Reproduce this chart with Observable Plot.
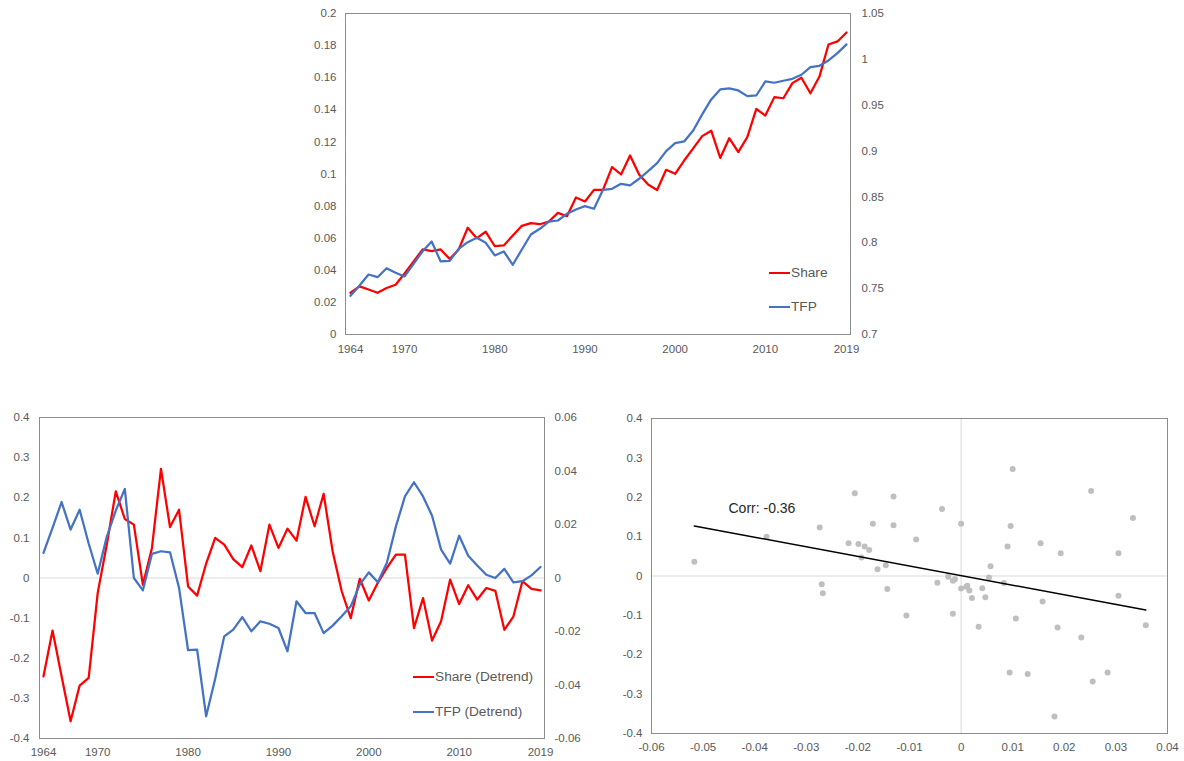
<!DOCTYPE html>
<html>
<head>
<meta charset="utf-8">
<script src="https://cdn.jsdelivr.net/npm/d3@7"></script>
<script src="https://cdn.jsdelivr.net/npm/@observablehq/plot@0.6"></script>
<style>
  html, body { margin: 0; padding: 0; background: #fff; }
  #root { position: relative; width: 1184px; height: 761px; overflow: hidden; font-family: "Liberation Sans", Arial, sans-serif; }
  #root > svg, #root > .plotwrap { position: absolute; }
  .leg { position: absolute; font-size: 13.7px; color: #595959; display: flex; align-items: center; white-space: nowrap; line-height: 1; }
  .leg span.sw { display: inline-block; width: 21px; height: 2px; margin-right: 1px; }
</style>
</head>
<body>
<div id="root"></div>
<script>
// ---- Data ----
const years = [1964,1965,1966,1967,1968,1969,1970,1971,1972,1973,1974,1975,1976,1977,1978,1979,1980,1981,1982,1983,1984,1985,1986,1987,1988,1989,1990,1991,1992,1993,1994,1995,1996,1997,1998,1999,2000,2001,2002,2003,2004,2005,2006,2007,2008,2009,2010,2011,2012,2013,2014,2015,2016,2017,2018,2019];

// Share (left axis, top panel)
const share = [0.026,0.030,0.028,0.026,0.029,0.031,0.038,0.0455,0.053,0.052,
               0.053,0.047,0.053,0.0665,0.060,0.064,0.055,0.0555,0.0617,0.0677,
               0.0694,0.0687,0.0704,0.0758,0.0737,0.0854,0.0829,0.0901,0.0901,0.1043,
               0.0997,0.1115,0.0997,0.0935,0.090,0.1026,0.1001,0.1084,0.116,0.1236,
               0.127,0.110,0.1223,0.1136,0.123,0.1406,0.1364,0.1479,0.1472,0.1566,
               0.160,0.1503,0.1607,0.1807,0.1826,0.1882];
// TFP (right axis, top panel)
const tfp = [0.7422,0.7534,0.7654,0.7625,0.7723,0.7673,0.7633,0.7771,0.7908,0.8014,
             0.7796,0.7803,0.7934,0.8007,0.8054,0.800,0.7862,0.7905,0.776,0.7927,
             0.809,0.8153,0.8232,0.8243,0.8316,0.8363,0.840,0.8371,0.8578,0.8589,
             0.8643,0.8625,0.8698,0.8781,0.8868,0.8999,0.9086,0.9105,0.9225,0.940,
             0.9563,0.9672,0.9683,0.9661,0.9599,0.9606,0.9759,0.9745,0.9767,0.9788,
             0.9832,0.9915,0.993,0.9988,1.0068,1.0163];
// Share (Detrend), left axis, bottom-left panel
const shareDetrend = [-0.245,-0.131,-0.245,-0.357,-0.268,-0.249,-0.037,0.083,0.216,0.147,
                      0.133,-0.017,0.075,0.272,0.127,0.170,-0.021,-0.044,0.036,0.100,
                      0.083,0.047,0.027,0.081,0.017,0.133,0.075,0.123,0.093,0.202,
                      0.129,0.210,0.066,-0.033,-0.100,-0.002,-0.056,-0.012,0.025,0.058,
                      0.058,-0.125,-0.050,-0.156,-0.108,-0.004,-0.065,-0.018,-0.054,-0.025,
                      -0.032,-0.129,-0.096,-0.008,-0.027,-0.031];
// TFP (Detrend), right axis, bottom-left panel
const tfpDetrend = [0.0094,0.0187,0.0284,0.0181,0.0255,0.0129,0.0016,0.0154,0.0252,0.0333,
                    0.0000,-0.0046,0.0090,0.0100,0.0096,-0.0037,-0.0270,-0.0268,-0.0517,-0.0377,
                    -0.0218,-0.0193,-0.0146,-0.0199,-0.0162,-0.0171,-0.0187,-0.0274,-0.0087,-0.0131,
                    -0.0131,-0.0206,-0.0178,-0.0143,-0.0106,-0.0025,0.0021,-0.0016,0.0057,0.0193,
                    0.0305,0.0358,0.0305,0.0233,0.0106,0.0054,0.0158,0.0083,0.0047,0.0012,
                    0.0000,0.0034,-0.0016,-0.0012,0.0010,0.0041];

const yearTicks = [1964,1970,1980,1990,2000,2010,2019];
const shareTicks = [0,0.02,0.04,0.06,0.08,0.1,0.12,0.14,0.16,0.18,0.2];
const tfpTicks = [0.7,0.75,0.8,0.85,0.9,0.95,1,1.05];
const detLeftTicks = [-0.4,-0.3,-0.2,-0.1,0,0.1,0.2,0.3,0.4];
const detRightTicks = [-0.06,-0.04,-0.02,0,0.02,0.04,0.06];
const scatterXTicks = [-0.06,-0.05,-0.04,-0.03,-0.02,-0.01,0,0.01,0.02,0.03,0.04];
const scatterYTicks = [-0.4,-0.3,-0.2,-0.1,0,0.1,0.2,0.3,0.4];
const corrLabel = "Corr: -0.36";

// ---- Build table ----
const rows = years.map((y, i) => ({year: y, share: share[i], tfp: tfp[i], shareDt: shareDetrend[i], tfpDt: tfpDetrend[i]}));

const fmt = d => String(Math.round(d * 1e6) / 1e6);
const RED = "#FF0000", BLUE = "#4472C4", TXT = "#595959", FRAME = "#8c8c8c";
const baseStyle = {fontFamily: "'Liberation Sans', Arial, sans-serif", fontSize: "11.5px", color: TXT, background: "transparent", overflow: "visible"};

const root = document.getElementById("root");
function place(svg, left, top) {
  svg.style.position = "absolute";
  svg.style.left = left + "px";
  svg.style.top = top + "px";
  root.appendChild(svg);
}

// ---- Top panel ----
const topDims = {width: 600, height: 360, marginLeft: 55, marginRight: 40, marginTop: 13, marginBottom: 26};
const topX = {domain: [1964, 2019], insetLeft: 5, insetRight: 4, ticks: yearTicks, tickFormat: d => String(d), tickSize: 0, tickPadding: 10, label: null};

place(Plot.plot({
  ...topDims, style: baseStyle,
  x: topX,
  y: {domain: [0, 0.2], ticks: shareTicks, tickFormat: fmt, tickSize: 0, tickPadding: 9, label: null},
  marks: [
    Plot.frame({stroke: FRAME}),
    Plot.lineY(rows, {x: "year", y: "share", stroke: RED, strokeWidth: 2.25})
  ]
}), 290, 0);

place(Plot.plot({
  ...topDims, style: baseStyle,
  x: {...topX, axis: null},
  y: {domain: [0.7, 1.05], axis: "right", ticks: tfpTicks, tickFormat: fmt, tickSize: 0, tickPadding: 11, label: null},
  marks: [
    Plot.lineY(rows, {x: "year", y: "tfp", stroke: BLUE, strokeWidth: 2.25})
  ]
}), 290, 0);

// ---- Bottom-left panel ----
const blDims = {width: 600, height: 361, marginLeft: 39, marginRight: 56, marginTop: 17, marginBottom: 23};
const blX = {domain: [1964, 2019], insetLeft: 4, insetRight: 4, ticks: yearTicks, tickFormat: d => String(d), tickSize: 0, tickPadding: 9, label: null};

place(Plot.plot({
  ...blDims, style: baseStyle,
  x: blX,
  y: {domain: [-0.4, 0.4], ticks: detLeftTicks, tickFormat: fmt, tickSize: 0, tickPadding: 10, label: null},
  marks: [
    Plot.ruleY([0], {stroke: "#D9D9D9"}),
    Plot.frame({stroke: FRAME}),
    Plot.lineY(rows, {x: "year", y: "shareDt", stroke: RED, strokeWidth: 2.25})
  ]
}), 0, 400);

place(Plot.plot({
  ...blDims, style: baseStyle,
  x: {...blX, axis: null},
  y: {domain: [-0.06, 0.06], axis: "right", ticks: detRightTicks, tickFormat: fmt, tickSize: 0, tickPadding: 10, label: null},
  marks: [
    Plot.lineY(rows, {x: "year", y: "tfpDt", stroke: BLUE, strokeWidth: 2.25})
  ]
}), 0, 400);

// ---- Scatter panel ----
place(Plot.plot({
  width: 584, height: 361, marginLeft: 51, marginRight: 17, marginTop: 18, marginBottom: 28,
  style: baseStyle,
  x: {domain: [-0.06, 0.04], ticks: scatterXTicks, tickFormat: fmt, tickSize: 0, tickPadding: 9, label: null},
  y: {domain: [-0.4, 0.4], ticks: scatterYTicks, tickFormat: fmt, tickSize: 0, tickPadding: 9, label: null},
  marks: [
    Plot.ruleX([0], {stroke: "#D9D9D9"}),
    Plot.ruleY([0], {stroke: "#D9D9D9"}),
    Plot.frame({stroke: FRAME}),
    Plot.dot(rows, {x: "tfpDt", y: "shareDt", r: 3, fill: "#BFBFBF", stroke: "none"}),
    Plot.linearRegressionY(rows, {x: "tfpDt", y: "shareDt", stroke: "#000", strokeWidth: 1.5, ci: 0}),
    Plot.text([corrLabel], {frameAnchor: "top-left", dx: 77, dy: 85, textAnchor: "start", fontSize: 14, fill: "#262626"})
  ]
}), 600, 400);

// ---- Legends ----
function legend(label, color, left, top) {
  const d = document.createElement("div");
  d.className = "leg";
  d.style.left = left + "px";
  d.style.top = (top - 7) + "px";
  d.style.height = "14px";
  const sw = document.createElement("span");
  sw.className = "sw";
  sw.style.background = color;
  d.appendChild(sw);
  d.appendChild(document.createTextNode(label));
  root.appendChild(d);
}
legend("Share", RED, 769, 273);
legend("TFP", BLUE, 769, 307);
legend("Share (Detrend)", RED, 413, 677);
legend("TFP (Detrend)", BLUE, 413, 712);
</script>
</body>
</html>
